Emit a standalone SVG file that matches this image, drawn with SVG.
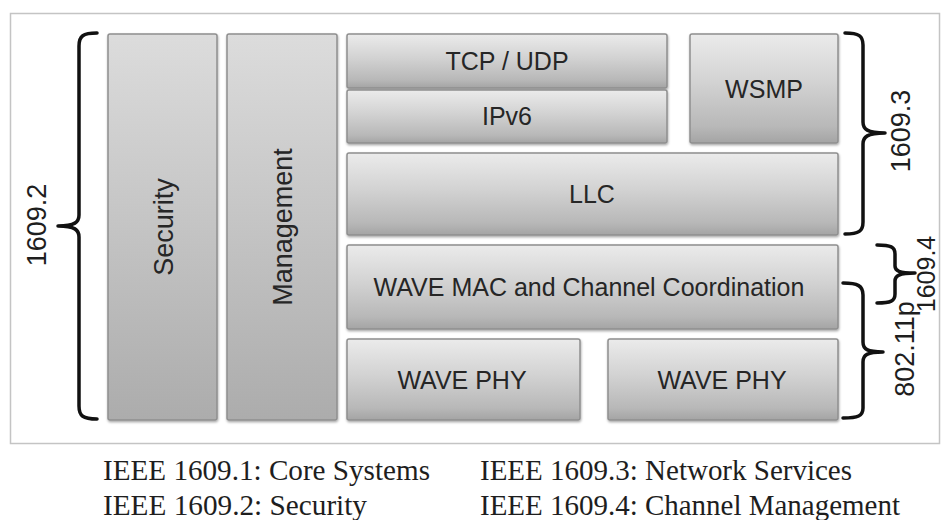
<svg xmlns="http://www.w3.org/2000/svg" width="943" height="520" viewBox="0 0 943 520">
<defs>
<linearGradient id="gv" x1="0" y1="0" x2="0" y2="1">
<stop offset="0" stop-color="#dcdcdc"/>
<stop offset="1" stop-color="#acacac"/>
</linearGradient>
<linearGradient id="gh" x1="0" y1="0" x2="0" y2="1">
<stop offset="0" stop-color="#ebebeb"/>
<stop offset="0.45" stop-color="#d2d2d2"/>
<stop offset="0.85" stop-color="#b8b8b8"/>
<stop offset="1" stop-color="#a4a4a4"/>
</linearGradient>
<filter id="sh" x="-5%" y="-5%" width="110%" height="115%">
<feDropShadow dx="0.5" dy="1.5" stdDeviation="1" flood-color="#000" flood-opacity="0.35"/>
</filter>
</defs>
<style>
.bv{fill:url(#gv);stroke:#8f8f8f;stroke-width:1.5;filter:url(#sh)}
.bh{fill:url(#gh);stroke:#8f8f8f;stroke-width:1.5;filter:url(#sh)}
.t{font-family:"Liberation Sans",Arial,sans-serif;font-size:25px;fill:#262626;text-anchor:middle}
.tv{font-family:"Liberation Sans",Arial,sans-serif;font-size:27px;fill:#262626;text-anchor:middle}
.br{fill:none;stroke:#111;stroke-width:3.5;stroke-linejoin:round;stroke-linecap:round}
.lb{font-family:"Liberation Sans",Arial,sans-serif;font-size:27px;fill:#1e1e1e;text-anchor:middle}
.cap{font-family:"Liberation Serif","Times New Roman",serif;font-size:30px;fill:#1e1e1e}
</style>
<rect x="0" y="0" width="943" height="520" fill="#ffffff"/>
<rect x="10.5" y="13.5" width="929" height="430" fill="#ffffff" stroke="#c4c4c4" stroke-width="1.5"/>

<g id="security">
<rect class="bv" x="108" y="34" width="109" height="386" rx="2"/>
<text class="tv" transform="translate(162.5,227) rotate(-90)" y="10">Security</text>
</g>
<g id="management">
<rect class="bv" x="227" y="34" width="110" height="386" rx="2"/>
<text class="tv" transform="translate(282,227) rotate(-90)" y="10">Management</text>
</g>
<g id="tcpudp">
<rect class="bh" x="347" y="34" width="320" height="54" rx="2"/>
<text class="t" x="507" y="70">TCP / UDP</text>
</g>
<g id="ipv6">
<rect class="bh" x="347" y="90" width="320" height="53" rx="2"/>
<text class="t" x="507" y="125">IPv6</text>
</g>
<g id="wsmp">
<rect class="bh" x="690" y="34" width="148" height="109" rx="2"/>
<text class="t" x="764" y="98">WSMP</text>
</g>
<g id="llc">
<rect class="bh" x="347" y="153" width="491" height="82" rx="2"/>
<text class="t" x="592" y="203">LLC</text>
</g>
<g id="wavemac">
<rect class="bh" x="347" y="245" width="491" height="84" rx="2"/>
<text class="t" x="589" y="296">WAVE MAC and Channel Coordination</text>
</g>
<g id="wavephy1">
<rect class="bh" x="347" y="339" width="233" height="81" rx="2"/>
<text class="t" x="462" y="389">WAVE PHY</text>
</g>
<g id="wavephy2">
<rect class="bh" x="608" y="339" width="230" height="81" rx="2"/>
<text class="t" x="722" y="389">WAVE PHY</text>
</g>

<g id="braces">
<path class="br" d="M97,33 C83,33 79,36 79,46 L79,215 C79,222 75,226 58,226 C75,226 79,230 79,237 L79,406 C79,416 83,419 97,419"/>
<path class="br" d="M845,33 C859,33 863,36 863,45 L863,122 C863,129 867,133 885,133 C867,133 863,137 863,144 L863,222 C863,231 859,234 845,234"/>
<path class="br" d="M877,245 C891,245 895,247 895,254 L895,266 C895,271 899,273 915,273 C899,273 895,276 895,281 L895,294 C895,301 891,303 877,303"/>
<path class="br" d="M843,283 C858,283 863,286 863,295 L863,342 C863,349 867,352 883,352 C867,352 863,355 863,362 L863,408 C863,416 858,418 843,418"/>
</g>

<g id="labels">
<text class="lb" transform="translate(36,225) rotate(-90)" y="10">1609.2</text>
<text class="lb" transform="translate(900,131) rotate(-90)" y="10">1609.3</text>
<text class="lb" transform="translate(926,274) rotate(-90)" y="9" style="font-size:25px">1609.4</text>
<text class="lb" transform="translate(904,349) rotate(-90)" y="10">802.11p</text>
</g>

<g id="legend">
<text class="cap" x="103" y="480" textLength="327" lengthAdjust="spacingAndGlyphs">IEEE 1609.1: Core Systems</text>
<text class="cap" x="103" y="515" textLength="264" lengthAdjust="spacingAndGlyphs">IEEE 1609.2: Security</text>
<text class="cap" x="480" y="480" textLength="372" lengthAdjust="spacingAndGlyphs">IEEE 1609.3: Network Services</text>
<text class="cap" x="480" y="515" textLength="420" lengthAdjust="spacingAndGlyphs">IEEE 1609.4: Channel Management</text>
</g>
</svg>
